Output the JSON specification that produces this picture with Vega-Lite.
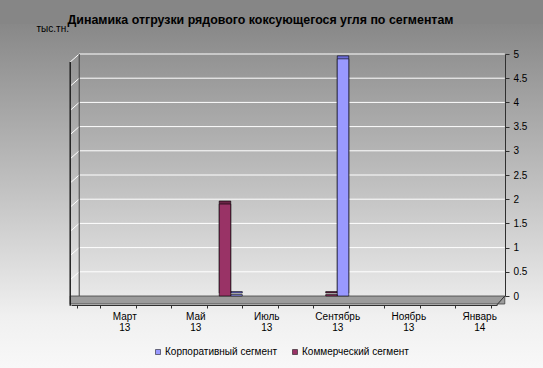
{
  "$schema": "https://vega.github.io/schema/vega-lite/v6.json",
  "width": 543,
  "height": 344,
  "autosize": {"type": "none"},
  "padding": {"top": 24, "left": 0, "right": 0, "bottom": 0},
  "background": "#868686",
  "view": {
    "stroke": null,
    "fill": {
      "gradient": "linear", "x1": 0, "y1": 0, "x2": 0, "y2": 1,
      "stops": [
        {"offset": 0, "color": "#888888"},
        {"offset": 0.5, "color": "#c4c4c4"},
        {"offset": 0.85, "color": "#f0f0f0"},
        {"offset": 1, "color": "#f8f8f8"}
      ]
    }
  },
  "config": {"font": "Liberation Sans"},
  "title": {
    "text": "Динамика отгрузки рядового коксующегося угля по сегментам",
    "fontSize": 12.4, "fontWeight": "bold", "color": "#000000",
    "anchor": "middle", "frame": "group", "dx": -11, "dy": 15, "offset": 2, "baseline": "alphabetic"
  },
  "datasets": {
    "shipments": [
      {"month": "Февраль 13", "segment": "Корпоративный сегмент", "value": 0},
      {"month": "Февраль 13", "segment": "Коммерческий сегмент", "value": 0},
      {"month": "Март 13", "segment": "Корпоративный сегмент", "value": 0},
      {"month": "Март 13", "segment": "Коммерческий сегмент", "value": 0},
      {"month": "Апрель 13", "segment": "Корпоративный сегмент", "value": 0},
      {"month": "Апрель 13", "segment": "Коммерческий сегмент", "value": 0},
      {"month": "Май 13", "segment": "Корпоративный сегмент", "value": 0},
      {"month": "Май 13", "segment": "Коммерческий сегмент", "value": 0},
      {"month": "Июнь 13", "segment": "Корпоративный сегмент", "value": 0.03},
      {"month": "Июнь 13", "segment": "Коммерческий сегмент", "value": 1.9},
      {"month": "Июль 13", "segment": "Корпоративный сегмент", "value": 0},
      {"month": "Июль 13", "segment": "Коммерческий сегмент", "value": 0},
      {"month": "Август 13", "segment": "Корпоративный сегмент", "value": 0},
      {"month": "Август 13", "segment": "Коммерческий сегмент", "value": 0},
      {"month": "Сентябрь 13", "segment": "Корпоративный сегмент", "value": 4.9},
      {"month": "Сентябрь 13", "segment": "Коммерческий сегмент", "value": 0.03},
      {"month": "Октябрь 13", "segment": "Корпоративный сегмент", "value": 0},
      {"month": "Октябрь 13", "segment": "Коммерческий сегмент", "value": 0},
      {"month": "Ноябрь 13", "segment": "Корпоративный сегмент", "value": 0},
      {"month": "Ноябрь 13", "segment": "Коммерческий сегмент", "value": 0},
      {"month": "Декабрь 13", "segment": "Корпоративный сегмент", "value": 0},
      {"month": "Декабрь 13", "segment": "Коммерческий сегмент", "value": 0},
      {"month": "Январь 14", "segment": "Корпоративный сегмент", "value": 0},
      {"month": "Январь 14", "segment": "Коммерческий сегмент", "value": 0}
    ],
    "grid": [
      {"v": 0.5}, {"v": 1}, {"v": 1.5}, {"v": 2}, {"v": 2.5},
      {"v": 3}, {"v": 3.5}, {"v": 4}, {"v": 4.5}, {"v": 5}
    ]
  },
  "resolve": {"scale": {"color": "independent"}},
  "layer": [
    {
      "data": {"values": [{}]},
      "mark": {"type": "rect", "fill": "#9c9c9c", "stroke": "#404040", "strokeWidth": 0.8, "xOffset": -7, "x2Offset": 14},
      "encoding": {
        "x": {"datum": "Февраль 13", "type": "nominal", "bandPosition": 0,
          "scale": {"domain": ["Февраль 13", "Март 13", "Апрель 13", "Май 13", "Июнь 13", "Июль 13", "Август 13", "Сентябрь 13", "Октябрь 13", "Ноябрь 13", "Декабрь 13", "Январь 14"], "range": [71, 497], "paddingInner": 0.35, "paddingOuter": 0.175},
          "axis": {"orient": "bottom", "offset": -63, "domainColor": "#303030", "tickColor": "#303030", "tickSize": 3, "tickBand": "extent", "labelAngle": 0, "labelAlign": "center", "labelFontSize": 10, "labelColor": "#000000", "labelPadding": 3, "labelLineHeight": 11, "labelBaseline": "top", "labelOverlap": false, "grid": false,
            "labelExpr": "indexof(['Март 13','Май 13','Июль 13','Сентябрь 13','Ноябрь 13','Январь 14'], datum.value) >= 0 ? split(datum.value, ' ') : ''",
            "title": "тыс.тн.", "titleX": 36, "titleY": -274, "titleAlign": "left", "titleBaseline": "alphabetic", "titleAngle": 0, "titleFontSize": 10, "titleFontWeight": "normal", "titleColor": "#000000"}},
        "x2": {"datum": "Январь 14", "bandPosition": 1},
        "y": {"datum": 0, "type": "quantitative", "scale": {"domain": [0, 5], "range": [272, 30], "nice": false, "zero": false},
          "axis": {"orient": "right", "offset": -38, "title": null, "values": [0, 0.5, 1, 1.5, 2, 2.5, 3, 3.5, 4, 4.5, 5], "tickCount": 20, "labelOverlap": false, "format": "~g", "domainColor": "#303030", "tickColor": "#303030", "tickSize": 4, "labelPadding": 4, "labelFontSize": 10, "labelColor": "#000000", "grid": false}},
        "y2": {"datum": -0.165}
      }
    },
    {
      "data": {"name": "grid"},
      "mark": {"type": "rule", "color": "#ffffff", "strokeWidth": 1, "xOffset": 2, "x2Offset": 14},
      "encoding": {
        "y": {"field": "v", "type": "quantitative"},
        "x": {"datum": "Февраль 13", "type": "nominal", "bandPosition": 0},
        "x2": {"datum": "Январь 14", "bandPosition": 1}
      }
    },
    {
      "data": {"name": "grid"},
      "mark": {"type": "rule", "color": "#ffffff", "strokeWidth": 1, "yOffset": 8, "xOffset": -7, "x2Offset": 2},
      "encoding": {
        "y": {"field": "v", "type": "quantitative"},
        "y2": {"field": "v"},
        "x": {"datum": "Февраль 13", "type": "nominal", "bandPosition": 0},
        "x2": {"datum": "Февраль 13", "bandPosition": 0}
      }
    },
    {
      "data": {"values": [{}]},
      "mark": {"type": "rule", "color": "#404040", "strokeWidth": 1, "xOffset": 2},
      "encoding": {
        "x": {"datum": "Февраль 13", "type": "nominal", "bandPosition": 0},
        "y": {"datum": 0, "type": "quantitative"},
        "y2": {"datum": 5}
      }
    },
    {
      "data": {"values": [{}]},
      "mark": {"type": "rule", "color": "#202020", "strokeWidth": 1.5, "xOffset": -7},
      "encoding": {
        "x": {"datum": "Февраль 13", "type": "nominal", "bandPosition": 0},
        "y": {"datum": -0.2, "type": "quantitative"},
        "y2": {"datum": 4.835}
      }
    },
    {
      "data": {"values": [{}]},
      "mark": {"type": "rule", "color": "#303030", "strokeWidth": 1, "xOffset": 6, "x2Offset": 14},
      "encoding": {
        "x": {"datum": "Январь 14", "type": "nominal", "bandPosition": 1},
        "x2": {"datum": "Январь 14", "bandPosition": 1},
        "y": {"datum": -0.186, "type": "quantitative"},
        "y2": {"datum": 0}
      }
    },
    {
      "data": {"name": "shipments"},
      "transform": [{"filter": "datum.value > 0"}],
      "mark": {"type": "bar", "stroke": "#000000", "strokeWidth": 0.6, "xOffset": 6, "yOffset": -3},
      "encoding": {
        "x": {"field": "month", "type": "nominal"},
        "xOffset": {"field": "segment", "type": "nominal", "scale": {"domain": ["Коммерческий сегмент", "Корпоративный сегмент"]}},
        "y": {"field": "value", "type": "quantitative"},
        "color": {"field": "segment", "type": "nominal", "scale": {"domain": ["Корпоративный сегмент", "Коммерческий сегмент"], "range": ["#6b6bd6", "#6b2447"]}, "legend": null}
      }
    },
    {
      "data": {"name": "shipments"},
      "transform": [{"filter": "datum.value > 0"}],
      "mark": {"type": "bar", "stroke": "#000000", "strokeWidth": 0.6, "xOffset": 3},
      "encoding": {
        "x": {"field": "month", "type": "nominal",
          "axis": {"orient": "bottom", "offset": -63, "domainColor": "#303030", "tickColor": "#303030", "tickSize": 3, "tickBand": "extent", "labelAngle": 0, "labelAlign": "center", "labelFontSize": 10, "labelColor": "#000000", "labelPadding": 3, "labelLineHeight": 11, "labelBaseline": "top", "labelOverlap": false, "grid": false,
            "labelExpr": "indexof(['Март 13','Май 13','Июль 13','Сентябрь 13','Ноябрь 13','Январь 14'], datum.value) >= 0 ? split(datum.value, ' ') : ''",
            "title": "тыс.тн.", "titleX": 36, "titleY": -274, "titleAlign": "left", "titleBaseline": "alphabetic", "titleAngle": 0, "titleFontSize": 10, "titleFontWeight": "normal", "titleColor": "#000000"}},
        "xOffset": {"field": "segment", "type": "nominal", "scale": {"domain": ["Коммерческий сегмент", "Корпоративный сегмент"]}},
        "y": {"field": "value", "type": "quantitative",
          "axis": {"orient": "right", "offset": -38, "title": null, "values": [0, 0.5, 1, 1.5, 2, 2.5, 3, 3.5, 4, 4.5, 5], "tickCount": 20, "labelOverlap": false, "format": "~g", "domainColor": "#303030", "tickColor": "#303030", "tickSize": 4, "labelPadding": 4, "labelFontSize": 10, "labelColor": "#000000", "grid": false}},
        "color": {"field": "segment", "type": "nominal", "scale": {"domain": ["Корпоративный сегмент", "Коммерческий сегмент"], "range": ["#9999ff", "#993366"]},
          "legend": {"orient": "none", "legendX": 153, "legendY": 323, "direction": "horizontal", "title": null, "symbolType": "square", "symbolSize": 25, "symbolStrokeColor": "#000000", "symbolStrokeWidth": 0.5, "labelFontSize": 10, "labelOffset": 2, "columnPadding": 12, "labelColor": "#000000"}}
      }
    }
  ]
}
